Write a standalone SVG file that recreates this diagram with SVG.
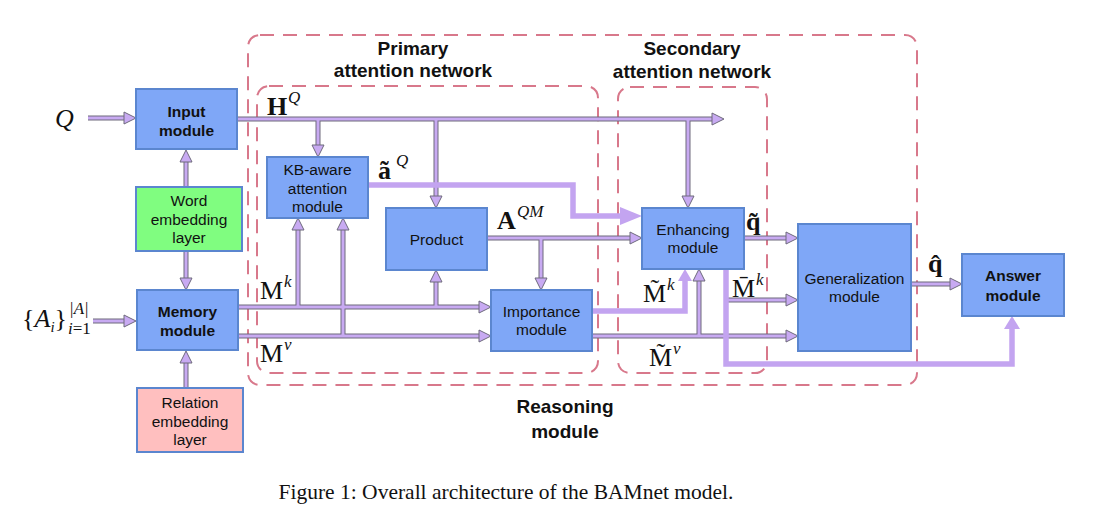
<svg xmlns="http://www.w3.org/2000/svg" width="1100" height="516" viewBox="0 0 1100 516">
<style>
.bg{fill:#ffffff}
.grp{fill:none;stroke:#d8788b;stroke-width:2;stroke-dasharray:14 9}
.node{fill:#7fa7f7;stroke:#5b86cf;stroke-width:2}
.green{fill:#80fd80;stroke:#5b86cf;stroke-width:2}
.pink{fill:#ffbfbf;stroke:#5b86cf;stroke-width:2}
.t{font-family:"Liberation Sans",Arial,sans-serif;font-size:15.5px;fill:#111;text-anchor:middle}
.tb{font-family:"Liberation Sans",Arial,sans-serif;font-size:15.5px;font-weight:bold;fill:#111;text-anchor:middle}
.gl{font-family:"Liberation Sans",Arial,sans-serif;font-size:19px;font-weight:bold;fill:#111;text-anchor:middle}
.m{font-family:"Liberation Serif","DejaVu Serif",serif;font-size:26px;fill:#111}
.mb{font-family:"Liberation Serif","DejaVu Serif",serif;font-size:26px;font-weight:bold;fill:#111}
.sup{font-family:"Liberation Serif","DejaVu Serif",serif;font-size:17px;font-style:italic;fill:#111}
.cap{font-family:"Liberation Serif","Times New Roman",serif;font-size:21.5px;fill:#111;text-anchor:middle}
.ol{fill:none;stroke:#6e6a7c;stroke-width:5}
.fl{fill:none;stroke:#c8aaf2;stroke-width:3}
.hd{fill:#c8aaf2;stroke:#6e6a7c;stroke-width:1}
.thick{fill:none;stroke:#c3a4f0;stroke-width:5.5;stroke-linejoin:miter}
.thd{fill:#c3a4f0;stroke:none}
</style>
<rect class="bg" x="0" y="0" width="1100" height="516"/>

<g id="groups">
<rect class="grp" x="248" y="35" width="669" height="350" rx="12"/>
<rect class="grp" x="257" y="86" width="341" height="287" rx="12"/>
<rect class="grp" x="618" y="87" width="149" height="286" rx="12"/>
<text class="gl" x="413" y="55">Primary</text>
<text class="gl" x="413" y="77">attention network</text>
<text class="gl" x="692" y="55">Secondary</text>
<text class="gl" x="692" y="78">attention network</text>
<text class="gl" x="565" y="413">Reasoning</text>
<text class="gl" x="565" y="438">module</text>
</g>

<g id="connectors">
<path class="ol" d="M88,118 H125 M93,321 H125 M186,186 V161 M186,251 V279 M186,388 V362 M237,119 H713 M318,119 V146 M436,119 V197 M688,119 V197 M238,307 H480 M298,307 V229 M436,307 V281 M238,336 H480 M343,336 V229 M487,238 H631 M541,238 V279 M592,336 H787 M699,336 V280 M744,238 H787 M726,300 H787 M911,284 H951"/>
<path class="fl" d="M88,118 H126 M93,321 H126 M186,186 V160 M186,251 V280 M186,388 V361 M237,119 H714 M318,120 V147 M436,120 V198 M688,120 V198 M238,307 H481 M298,306 V228 M436,306 V280 M238,336 H481 M343,335 V228 M487,238 H632 M541,239 V280 M592,336 H788 M699,335 V279 M744,238 H788 M726,300 H788 M911,284 H952"/>
<polygon class="hd" points="124,112 136,118 124,124"/>
<polygon class="hd" points="124,315 136,321 124,327"/>
<polygon class="hd" points="180,162 186,150 192,162"/>
<polygon class="hd" points="180,278 186,290 192,278"/>
<polygon class="hd" points="180,363 186,351 192,363"/>
<polygon class="hd" points="712,113 724,119 712,125"/>
<polygon class="hd" points="312,145 318,157 324,145"/>
<polygon class="hd" points="430,196 436,208 442,196"/>
<polygon class="hd" points="682,196 688,208 694,196"/>
<polygon class="hd" points="479,301 491,307 479,313"/>
<polygon class="hd" points="292,230 298,218 304,230"/>
<polygon class="hd" points="430,282 436,270 442,282"/>
<polygon class="hd" points="479,330 491,336 479,342"/>
<polygon class="hd" points="337,230 343,218 349,230"/>
<polygon class="hd" points="630,232 642,238 630,244"/>
<polygon class="hd" points="535,278 541,290 547,278"/>
<polygon class="hd" points="786,330 798,336 786,342"/>
<polygon class="hd" points="693,281 699,269 705,281"/>
<polygon class="hd" points="786,232 798,238 786,244"/>
<polygon class="hd" points="786,294 798,300 786,306"/>
<polygon class="hd" points="950,278 962,284 950,290"/>
<path class="thick" d="M368,185 H573 V216 H622"/>
<polygon class="thd" points="620,207 642,216 620,225"/>
<path class="thick" d="M592,311 H685 V280"/>
<polygon class="thd" points="678,281 685,269 692,281"/>
<path class="thick" d="M726,269 V364 H1012 V328"/>
<polygon class="thd" points="1004,329 1012,316 1020,329"/>
</g>

<g id="input-module">
<rect class="node" x="136" y="89" width="101" height="60"/>
<text class="tb" x="186.5" y="116.5">Input</text>
<text class="tb" x="186.5" y="135.5">module</text>
</g>
<g id="word-embedding">
<rect class="green" x="136" y="187" width="106" height="64"/>
<text class="t" x="189" y="206">Word</text>
<text class="t" x="189" y="225">embedding</text>
<text class="t" x="189" y="243">layer</text>
</g>
<g id="memory-module">
<rect class="node" x="137" y="290" width="101" height="60"/>
<text class="tb" x="187.5" y="317">Memory</text>
<text class="tb" x="187.5" y="336">module</text>
</g>
<g id="relation-embedding">
<rect class="pink" x="137" y="388" width="106" height="64"/>
<text class="t" x="190" y="408">Relation</text>
<text class="t" x="190" y="427">embedding</text>
<text class="t" x="190" y="445">layer</text>
</g>
<g id="kb-aware">
<rect class="node" x="267" y="157" width="101" height="61"/>
<text class="t" x="317.5" y="175">KB-aware</text>
<text class="t" x="317.5" y="194">attention</text>
<text class="t" x="317.5" y="212">module</text>
</g>
<g id="product">
<rect class="node" x="386" y="208" width="101" height="62"/>
<text class="t" x="436.5" y="244.5">Product</text>
</g>
<g id="importance">
<rect class="node" x="491" y="290" width="101" height="61"/>
<text class="t" x="541.5" y="317">Importance</text>
<text class="t" x="541.5" y="335">module</text>
</g>
<g id="enhancing">
<rect class="node" x="642" y="208" width="102" height="61"/>
<text class="t" x="693" y="235">Enhancing</text>
<text class="t" x="693" y="253">module</text>
</g>
<g id="generalization">
<rect class="node" x="798" y="224" width="113" height="127"/>
<text class="t" x="854.5" y="284">Generalization</text>
<text class="t" x="854.5" y="302">module</text>
</g>
<g id="answer">
<rect class="node" x="962" y="254" width="102" height="62"/>
<text class="tb" x="1013" y="281">Answer</text>
<text class="tb" x="1013" y="301">module</text>
</g>

<g id="labels">
<text class="m" x="55" y="127" font-style="italic" font-size="28">Q</text>
<text class="m" x="22" y="327" font-size="24">{<tspan font-style="italic">A</tspan><tspan font-size="15" font-style="italic" dy="5">i</tspan><tspan dy="-5">}</tspan></text>
<text class="sup" x="69" y="314" font-size="15" font-style="normal">|<tspan font-style="italic">A</tspan>|</text>
<text class="sup" x="68" y="334" font-size="15"><tspan>i</tspan><tspan font-style="normal">=1</tspan></text>
<text class="mb" x="267" y="115">H</text><text class="sup" x="288" y="103">Q</text>
<text class="mb" x="378" y="179">ã</text><text class="sup" x="396" y="166">Q</text>
<text class="mb" x="497" y="229">A</text><text class="sup" x="517" y="217">QM</text>
<text class="m" x="260" y="299">M</text><text class="sup" x="284" y="287">k</text>
<text class="m" x="260" y="362">M</text><text class="sup" x="284" y="350">v</text>
<text class="m" x="643" y="302">M̃</text><text class="sup" x="667" y="290">k</text>
<text class="m" x="649" y="366">M̃</text><text class="sup" x="673" y="354">v</text>
<text class="m" x="732" y="297">M̄</text><text class="sup" x="756" y="285">k</text>
<text class="mb" x="746" y="230">q̃</text>
<text class="mb" x="928" y="272">q̂</text>
</g>

<text class="cap" x="506" y="499">Figure 1: Overall architecture of the BAMnet model.</text>
</svg>
